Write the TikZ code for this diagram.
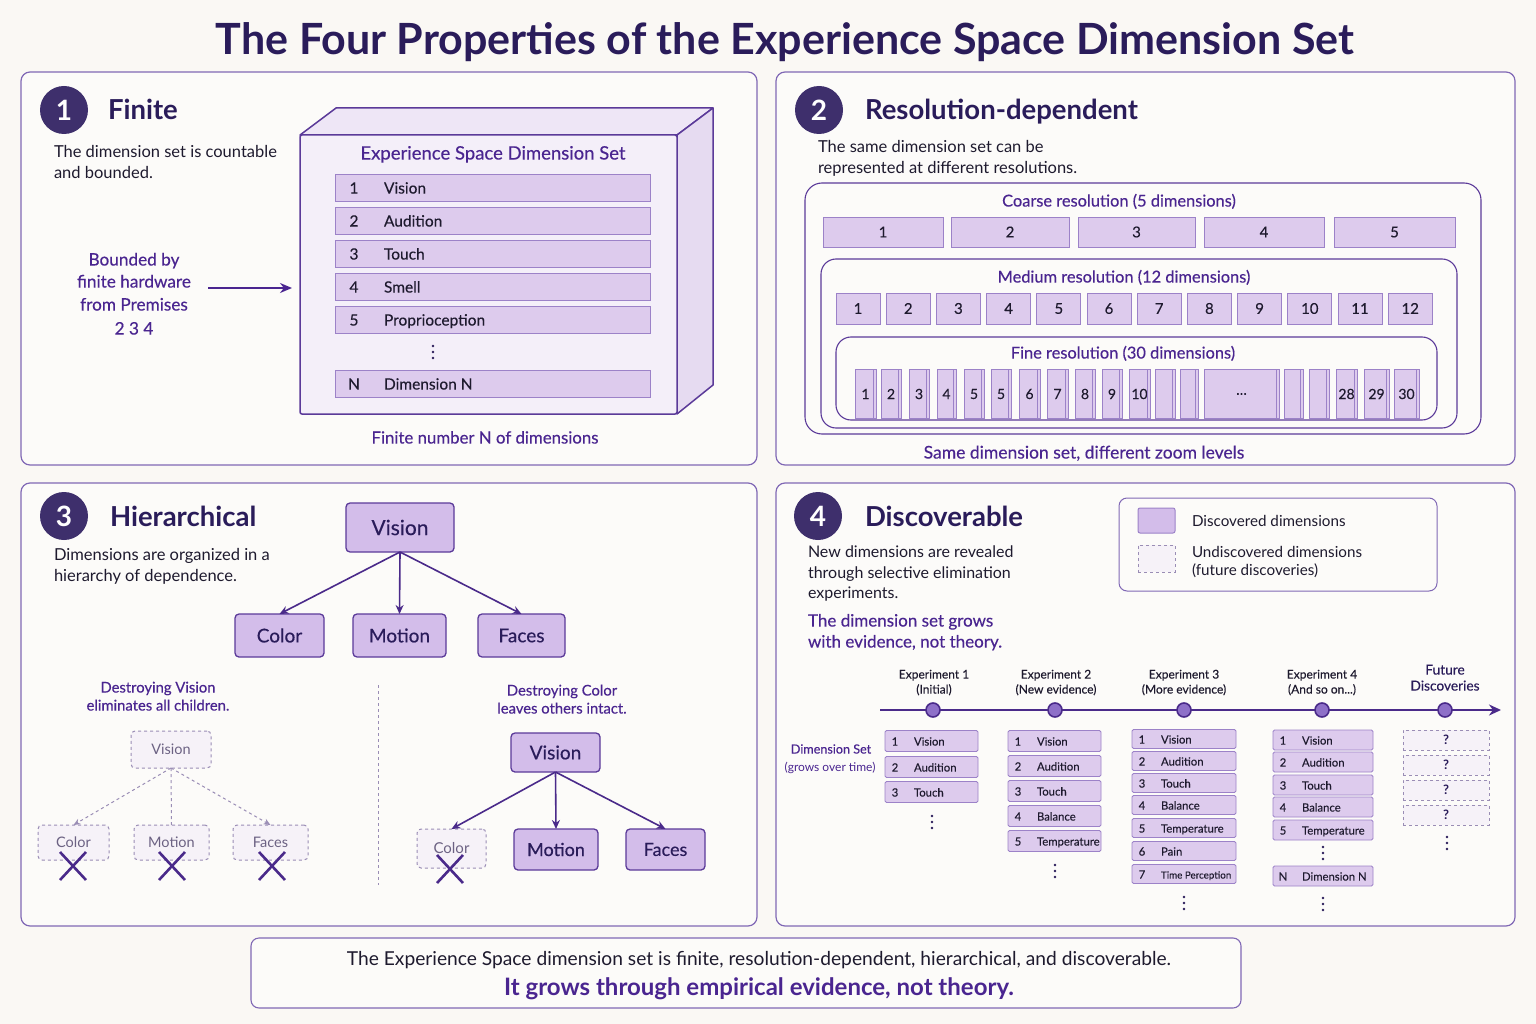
\documentclass[tikz,border=0pt]{standalone}
\usepackage{fontspec}
\setmainfont{Lato}
\newfontfamily\accf[FakeBold=0.3]{Lato}
\newfontfamily\medf[FakeBold=0.2]{Lato}
\usetikzlibrary{arrows.meta,calc}
\definecolor{bg}{HTML}{FAF8F4}
\definecolor{panelfill}{HTML}{FCFBF9}
\definecolor{pborder}{HTML}{8068B5}
\definecolor{dark}{HTML}{2A1C5A}
\definecolor{accent}{HTML}{4A2590}
\definecolor{badgec}{HTML}{3E2F6C}
\definecolor{bfill}{HTML}{DDCBED}
\definecolor{bborder}{HTML}{9C82C8}
\definecolor{tfill}{HTML}{D3BDEA}
\definecolor{tborder}{HTML}{5B3A99}
\definecolor{txt}{HTML}{1E1A2E}
\definecolor{ghost}{HTML}{9A8DB5}
\definecolor{ghosttxt}{HTML}{6C6283}
\definecolor{ghostfill}{HTML}{F6F2F8}
\definecolor{arrowc}{HTML}{4A2A8A}
\definecolor{boxfront}{HTML}{F4EFF9}
\definecolor{boxtop}{HTML}{EEE6F6}
\definecolor{boxside}{HTML}{E6DBF1}
\definecolor{dotfill}{HTML}{8E70C8}
\newcommand\fsz[2]{\fontsize{#1}{#2}\selectfont}
\newcommand\exprow[7]{%
  \node[srow,minimum width={#3-#2},minimum height=#5,anchor=west] (#1) at (#2,#4) {};
  \node[anchor=mid,font=\medf\fsz{11.3}{13}] (#1n) at ($(#1.west)+(10,2)$) {#6};
  \node[anchor=mid west,font=\medf\fsz{11.3}{13}] (#1l) at ($(#1.west)+(29,2)$) {#7};}
\newcommand\vdotsmk[2]{\fill[dark] (#1,#2-6) circle (1.3pt) (#1,#2) circle (1.3pt) (#1,#2+6) circle (1.3pt);}
\newcommand\crossmk[2]{\draw[xmk] (#1-13,#2-14) -- (#1+13,#2+14) (#1-13,#2+14) -- (#1+13,#2-14);}
\begin{document}
\begin{tikzpicture}[x=1pt,y=-1pt,
  every node/.style={inner sep=0pt,outer sep=0pt,text=txt},
  panel/.style={draw=pborder,line width=1.2pt,rounded corners=9pt,fill=panelfill},
  container/.style={draw=tborder,line width=1.1pt,rounded corners=15pt},
  badge/.style={circle,fill=badgec,minimum size=48pt,text=white,font=\fsz{28}{30}\bfseries},
  heading/.style={anchor=mid west,text=dark,font=\fsz{27.5}{30}\bfseries},
  body/.style={anchor=mid west,text=txt,font=\fsz{16.5}{19}},
  acc/.style={anchor=mid,text=accent,font=\accf\fsz{16.5}{19}},
  rowbox/.style={draw=bborder,fill=bfill,line width=0.9pt},
  cbox/.style={draw=bborder,fill=bfill,line width=0.9pt,font=\medf\fsz{15}{18}},
  fbox/.style={draw=bborder,fill=bfill,line width=0.8pt,font=\medf\fsz{14}{16}},
  srow/.style={draw=bborder,fill=bfill,line width=0.8pt,rounded corners=1.5pt},
  qrow/.style={draw=ghost,fill=ghostfill,dashed,line width=0.8pt,font=\fsz{13}{15}\bfseries,text=dark},
  tnode/.style={draw=tborder,fill=tfill,line width=1.3pt,rounded corners=4pt,text=dark},
  gnode/.style={draw=ghost,fill=ghostfill,dashed,line width=1pt,rounded corners=4pt,text=ghosttxt,font=\fsz{14.5}{17}},
  tarrow/.style={draw=arrowc,line width=1.6pt,-{Stealth[length=9pt,width=8pt]}},
  garrow/.style={draw=ghost,line width=1pt,dashed},
  xmk/.style={draw=arrowc,line width=2.6pt},
  tdot/.style={circle,minimum size=14pt,fill=dotfill,draw=arrowc,line width=1.6pt},
  small/.style={anchor=mid,font=\medf\fsz{12}{14},text=txt}]
\useasboundingbox (0,0) rectangle (1536,1024);
\fill[bg] (0,0) rectangle (1536,1024);

% title
\node[font=\fsz{43}{46}\bfseries,text=dark,anchor=base] (title) at (785,55) {The Four Properties of the Experience Space Dimension Set};

% panels
\draw[panel] (21,72) rectangle (757,465);
\draw[panel] (776,72) rectangle (1515,465);
\draw[panel] (21,483) rectangle (757,926);
\draw[panel] (776,483) rectangle (1515,926);

% ---------------- Panel 1
\node[badge] (b1) at (64,110) {1};
\node[heading] (h1) at (108,117) {Finite};
\node[body] (d1a) at (54,155) {The dimension set is countable};
\node[body] (d1b) at (54,176) {and bounded.};
\node[acc,font=\accf\fsz{17.2}{20}] (bd1) at (134,263) {Bounded by};
\node[acc,font=\accf\fsz{17.2}{20}] (bd2) at (134,285) {finite hardware};
\node[acc,font=\accf\fsz{17.2}{20}] (bd3) at (134,308) {from Premises};
\node[acc,font=\accf\fsz{17.2}{20}] (bd4) at (134,332) {2 3 4};
\coordinate (arrS) at (208,288);
% 3D box
\filldraw[fill=boxtop,draw=tborder,line width=1.5pt,line join=round] (300,135) -- (336,108) -- (713,108) -- (677,135) -- cycle;
\filldraw[fill=boxside,draw=tborder,line width=1.5pt,line join=round] (677,135) -- (713,108) -- (713,385) -- (677,414) -- cycle;
\node[draw=tborder,fill=boxfront,line width=1.5pt,minimum width=377pt,minimum height=279pt,anchor=north west,rounded corners=2pt] (esds) at (300,135) {};
\draw[-{Stealth[length=12pt,width=10pt]},draw=accent,line width=2pt,shorten >=8pt] (arrS) -- (arrS -| esds.west);
\node[acc,font=\accf\fsz{18.5}{21}] (esdt) at (493,157) {Experience Space Dimension Set};
\foreach \n/\l/\y [count=\i] in {1/Vision/188,2/Audition/221,3/Touch/254,4/Smell/287,5/Proprioception/320,N/Dimension N/384} {
  \node[rowbox,minimum width=315pt,minimum height=27pt,anchor=west] (p1r\i) at (335,\y) {};
  \node[anchor=mid,font=\medf\fsz{15.5}{18}] (p1n\i) at ($(p1r\i.west)+(19,3)$) {\n};
  \node[anchor=mid west,font=\medf\fsz{15.5}{18}] (p1l\i) at ($(p1r\i.west)+(49,3)$) {\l};
}
\vdotsmk{433}{352}
\node[acc,font=\accf\fsz{16.8}{19}] (fn) at (485,441) {Finite number N of dimensions};

% ---------------- Panel 2
\node[badge] (b2) at (819,110) {2};
\node[heading] (h2) at (865,117) {Resolution-dependent};
\node[body] (d2a) at (818,150) {The same dimension set can be};
\node[body] (d2b) at (818,171) {represented at different resolutions.};
\draw[container,rounded corners=17pt] (805,183) rectangle (1481,434);
\node[acc,font=\accf\fsz{16.4}{18}] (crl) at (1119,204) {Coarse resolution (5 dimensions)};
\foreach \a/\b [count=\i] in {823/943,951/1069,1078/1195,1204/1324,1334/1455}
  \node[cbox,minimum width={\b-\a},minimum height=30pt] (c\i) at ({(\a+\b)/2},232) {\i};
\draw[container] (821,259) rectangle (1457,428);
\node[acc,font=\accf\fsz{16.4}{18}] (mrl) at (1124,280) {Medium resolution (12 dimensions)};
\foreach \i in {1,...,12}
  \node[cbox,minimum width=44pt,minimum height=31pt] (m\i) at ({858+(\i-1)*50.2},308.5) {\i};
\draw[container] (836,337) rectangle (1437,420);
\node[acc,font=\accf\fsz{16.4}{18}] (frl) at (1123,356) {Fine resolution (30 dimensions)};
\foreach \a/\b/\l [count=\i] in {855/876/1,881/901/2,909/929/3,937/956/4,964/984/5,991/1011/5,1019/1040/6,1047/1068/7,1075/1095/8,1102/1122/9,1129/1150/10,1155/1175/,1180/1198/,1204/1279/\dots,1284/1303/,1309/1329/,1336/1357/28,1364/1389/29,1394/1419/30} {
  \node[fbox,minimum width={\b-\a},minimum height=49pt] (f\i) at ({(\a+\b)/2},394) {\l};
  \draw[bborder,line width=0.6pt] (\b-3,370) -- (\b-3,418);
}
\node[acc,font=\accf\fsz{17.5}{19}] (sds) at (1084,456) {Same dimension set, different zoom levels};

% ---------------- Panel 3
\node[badge] (b3) at (64,516) {3};
\node[heading] (h3) at (110,524) {Hierarchical};
\node[body] (d3a) at (54,558) {Dimensions are organized in a};
\node[body] (d3b) at (54,579) {hierarchy of dependence.};
\node[tnode,minimum width=108pt,minimum height=49pt,font=\accf\fsz{21}{24}] (tv) at (400,527.5) {Vision};
\node[tnode,minimum width=89pt,minimum height=43pt,font=\accf\fsz{19}{22}] (tc) at (279.5,635.5) {Color};
\node[tnode,minimum width=93pt,minimum height=43pt,font=\accf\fsz{19}{22}] (tm) at (399.5,635.5) {Motion};
\node[tnode,minimum width=87pt,minimum height=43pt,font=\accf\fsz{19}{22}] (tf) at (521.5,635.5) {Faces};
\draw[tarrow] (tv.south) -- (tc.north);
\draw[tarrow] (tv.south) -- (tm.north);
\draw[tarrow] (tv.south) -- (tf.north);
\node[acc,font=\accf\fsz{14.8}{17}] (dv1) at (158,690) {Destroying Vision};
\node[acc,font=\accf\fsz{14.8}{17}] (dv2) at (158,708) {eliminates all children.};
\coordinate (divT) at (378,685);
\coordinate (divB) at (378,885);
\draw[ghost,dashed,line width=1pt] (divT) -- (divB);
\node[gnode,minimum width=80pt,minimum height=37pt] (gv) at (171,749.5) {Vision};
\node[gnode,minimum width=71pt,minimum height=35pt] (gc) at (73.5,842.5) {Color};
\node[gnode,minimum width=75pt,minimum height=35pt] (gm) at (171.5,842.5) {Motion};
\node[gnode,minimum width=75pt,minimum height=35pt] (gf) at (270.5,842.5) {Faces};
\draw[garrow,-{Stealth[length=7pt,width=6pt,open]}] (gv.south) -- (gc.north);
\draw[garrow] (gv.south) -- (gm.north);
\draw[garrow,-{Stealth[length=7pt,width=6pt,open]}] (gv.south) -- (gf.north);
\crossmk{73}{866}
\crossmk{172}{866}
\crossmk{272}{866}
\node[acc,font=\accf\fsz{14.8}{17}] (dc1) at (562,693) {Destroying Color};
\node[acc,font=\accf\fsz{14.8}{17}] (dc2) at (562,711) {leaves others intact.};
\node[tnode,minimum width=89pt,minimum height=39pt,font=\accf\fsz{19}{22}] (rv) at (555.5,752.5) {Vision};
\node[gnode,minimum width=69pt,minimum height=39pt,font=\fsz{15}{18}] (rc) at (451.5,848.5) {Color};
\node[tnode,minimum width=84pt,minimum height=41pt,font=\accf\fsz{18}{21}] (rm) at (556,849.5) {Motion};
\node[tnode,minimum width=79pt,minimum height=41pt,font=\accf\fsz{18}{21}] (rf) at (665.5,849.5) {Faces};
\draw[tarrow] (rv.south) -- (rc.north);
\draw[tarrow] (rv.south) -- (rm.north);
\draw[tarrow] (rv.south) -- (rf.north);
\crossmk{450}{869}

% ---------------- Panel 4
\node[badge] (b4) at (818,516) {4};
\node[heading] (h4) at (865,524) {Discoverable};
\node[body,font=\fsz{16}{18}] (d4a) at (808,555) {New dimensions are revealed};
\node[body,font=\fsz{16}{18}] (d4b) at (808,576) {through selective elimination};
\node[body,font=\fsz{16}{18}] (d4c) at (808,596) {experiments.};
\node[acc,anchor=mid west,font=\accf\fsz{17}{19}] (g4a) at (808,624) {The dimension set grows};
\node[acc,anchor=mid west,font=\accf\fsz{17}{19}] (g4b) at (808,645) {with evidence, not theory.};
% legend
\draw[draw=pborder,line width=1pt,rounded corners=8pt,fill=panelfill] (1119,498) rectangle (1437,591);
\node[draw=bborder,fill=tfill,line width=1pt,rounded corners=2pt,minimum width=37pt,minimum height=25pt] (lg1) at (1156.5,520.5) {};
\node[body,font=\fsz{15.2}{17}] (lg1t) at (1192,524) {Discovered dimensions};
\node[draw=ghost,fill=ghostfill,dashed,line width=1pt,minimum width=37pt,minimum height=27pt] (lg2) at (1156.5,558.5) {};
\node[body,font=\fsz{15.2}{17}] (lg2t) at (1192,555) {Undiscovered dimensions};
\node[body,font=\fsz{15.2}{17}] (lg2u) at (1192,573) {(future discoveries)};
% timeline
\coordinate (tlS) at (880,710);
\coordinate (tlE) at (1501,710);
\draw[draw=arrowc,line width=2.5pt,-{Stealth[length=12pt,width=11pt]}] (tlS) -- (tlE);
\foreach \x [count=\i] in {933,1055,1184,1322,1445}
  \node[tdot] (e\i) at (\x,710) {};
\node[small] (ex1a) at (934,676) {Experiment 1};
\node[small] (ex1b) at (934,691) {(Initial)};
\node[small] (ex2a) at (1056,676) {Experiment 2};
\node[small] (ex2b) at (1056,691) {(New evidence)};
\node[small] (ex3a) at (1184,676) {Experiment 3};
\node[small] (ex3b) at (1184,691) {(More evidence)};
\node[small] (ex4a) at (1322,676) {Experiment 4};
\node[small] (ex4b) at (1322,691) {(And so on...)};
\node[small,font=\accf\fsz{13.7}{15},text=dark] (fu1) at (1445,672) {Future};
\node[small,font=\accf\fsz{13.7}{15},text=dark] (fu2) at (1445,688) {Discoveries};
\node[small,font=\accf\fsz{12.6}{14},text=accent] (dsl1) at (831,751) {Dimension Set};
\node[small,font=\fsz{12}{14},text=accent] (dsl2) at (830,769) {(grows over time)};
\foreach \n/\l/\y [count=\i] in {1/Vision/741,2/Audition/767,3/Touch/792}
  {\exprow{ca\i}{885}{978}{\y}{21}{\n}{\l}}
\vdotsmk{932}{822}
\foreach \n/\l/\y [count=\i] in {1/Vision/741,2/Audition/766,3/Touch/791,4/Balance/816,5/Temperature/841}
  {\exprow{cb\i}{1008}{1101}{\y}{21}{\n}{\l}}
\vdotsmk{1055}{871}
\foreach \n/\l/\y [count=\i] in {1/Vision/739,2/Audition/761,3/Touch/783,4/Balance/805,5/Temperature/828,6/Pain/851,7/{\fsz{9.8}{11}Time Perception}/874}
  {\exprow{cc\i}{1132}{1236}{\y}{19}{\n}{\l}}
\vdotsmk{1184}{903}
\foreach \n/\l/\y [count=\i] in {1/Vision/740,2/Audition/762,3/Touch/785,4/Balance/807,5/Temperature/830,N/Dimension N/876}
  {\exprow{cd\i}{1273}{1373}{\y}{20}{\n}{\l}}
\vdotsmk{1323}{853}
\vdotsmk{1323}{904}
\foreach \y [count=\i] in {740,765,790,815}
  \node[qrow,minimum width=86pt,minimum height=20pt] (q\i) at (1446,\y) {?};
\vdotsmk{1447}{843}

% ---------------- bottom
\node[draw=pborder,line width=1.1pt,rounded corners=8pt,fill=panelfill,minimum width=990pt,minimum height=70pt] (summary) at (746,973) {};
\node[anchor=mid,font=\fsz{19.2}{22},text=txt] (sum1) at (759,963) {The Experience Space dimension set is finite, resolution-dependent, hierarchical, and discoverable.};
\node[anchor=mid,font=\fsz{24}{27}\bfseries,text=accent] (sum2) at (759,993) {It grows through empirical evidence, not theory.};
\end{tikzpicture}
\end{document}
